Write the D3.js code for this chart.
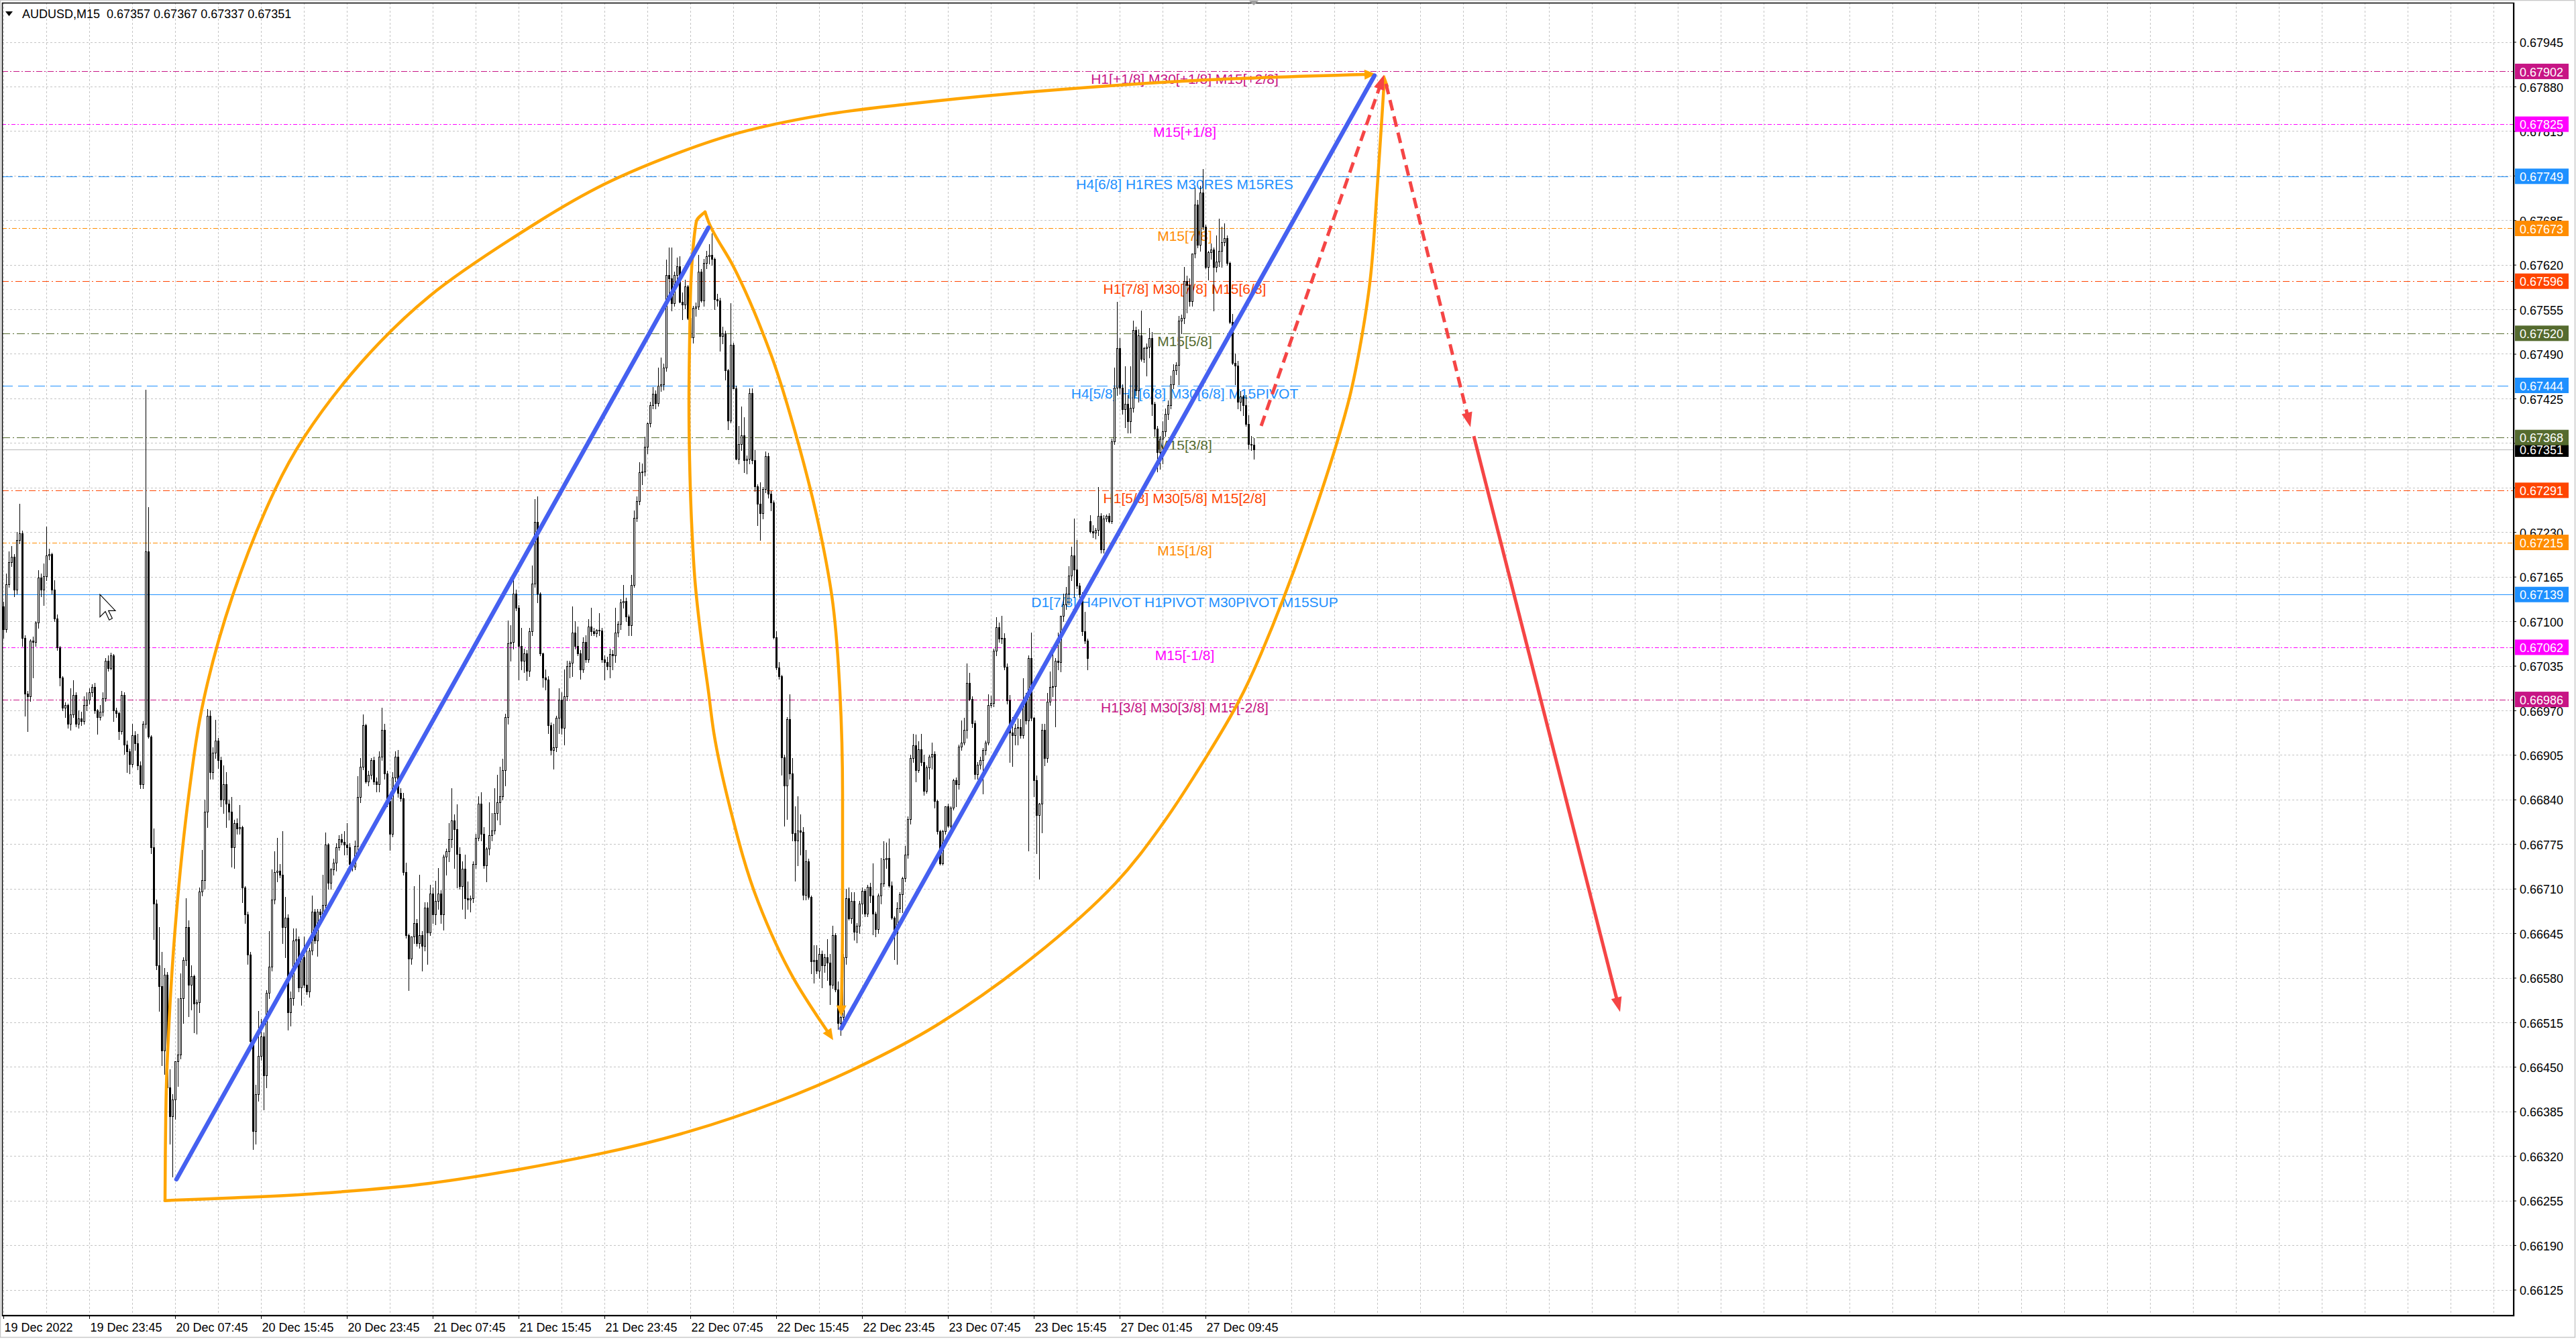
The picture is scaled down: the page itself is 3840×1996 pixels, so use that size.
<!DOCTYPE html>
<html>
<head>
<meta charset="utf-8">
<script src="https://cdnjs.cloudflare.com/ajax/libs/d3/7.8.5/d3.min.js"></script>
<style>
html, body { margin: 0; padding: 0; background: #fff; }
svg { display: block; font-family: "Liberation Sans", Arial, sans-serif; }
</style>
</head>
<body>
<svg id="chart" width="3840" height="1996"></svg>
<script>
// ---- data (prices in points, 1 point = 0.00001) ----
const symbol = "AUDUSD", timeframe = "M15";

// [open, high, low, close] per M15 bar
const bars = [
[67122,67128,67076,67088],[67088,67170,67084,67154],[67154,67202,67150,67186],[67186,67210,67180,67194],[67194,67198,67136,67146],[67146,67230,67140,67218],[67218,67271,67214,67228],[67228,67232,67064,67076],[67076,67080,66962,66994],[66994,66998,66940,66990],
[66990,67074,66984,67072],[67072,67078,67018,67070],[67070,67100,67064,67098],[67098,67174,67090,67164],[67164,67170,67136,67146],[67146,67184,67124,67166],[67166,67238,67160,67196],[67196,67206,67190,67198],[67198,67200,67140,67146],[67146,67160,67100,67104],
[67104,67110,67058,67062],[67062,67064,67006,67018],[67018,67020,66970,66974],[66974,66982,66960,66978],[66978,66980,66944,66950],[66950,67002,66942,66964],[66964,67014,66960,66992],[66992,66996,66946,66950],[66950,66970,66944,66958],[66958,66968,66948,66954],
[66954,66990,66950,66978],[66978,66996,66970,66986],[66986,67002,66980,66996],[66996,67008,66990,67004],[67004,67010,66966,66970],[66970,66972,66936,66960],[66960,66978,66956,66968],[66968,66996,66962,66988],[66988,67046,66984,67042],[67042,67050,67028,67032],
[67032,67054,67030,67050],[67050,67052,66954,66970],[66970,66974,66960,66966],[66966,66968,66928,66940],[66940,66998,66936,66992],[66992,66996,66906,66920],[66920,66926,66880,66910],[66910,66914,66878,66892],[66892,66950,66888,66934],[66934,66940,66912,66922],
[66922,66936,66884,66890],[66890,66896,66856,66862],[66862,66954,66856,66950],[66950,67438,66944,67202],[67202,67266,66930,66932],[66932,66934,66762,66770],[66770,66798,66636,66688],[66688,66694,66592,66598],[66598,66654,66532,66568],[66568,66618,66452,66474],
[66474,66594,66440,66584],[66584,66588,66410,66420],[66420,66446,66338,66378],[66378,66410,66290,66402],[66402,66458,66374,66458],[66458,66550,66422,66468],[66468,66586,66462,66550],[66550,66610,66514,66606],[66606,66696,66598,66654],[66654,66664,66524,66570],
[66570,66598,66534,66582],[66582,66584,66500,66542],[66542,66548,66498,66544],[66544,66712,66530,66706],[66706,66766,66700,66722],[66722,66840,66710,66822],[66822,66972,66800,66962],[66962,66970,66870,66880],[66880,66916,66870,66908],[66908,66956,66900,66926],
[66926,66930,66886,66898],[66898,66902,66830,66840],[66840,66890,66820,66862],[66862,66880,66800,66834],[66834,66840,66810,66822],[66822,66844,66742,66770],[66770,66810,66740,66806],[66806,66812,66790,66798],[66798,66832,66790,66800],[66800,66802,66690,66712],
[66712,66714,66660,66672],[66672,66676,66600,66614],[66614,66618,66480,66488],[66488,66490,66330,66356],[66356,66424,66338,66410],[66410,66532,66400,66466],[66466,66520,66460,66494],[66494,66500,66388,66438],[66438,66562,66420,66558],[66558,66648,66550,66596],
[66596,66738,66590,66694],[66694,66764,66688,66734],[66734,66784,66720,66736],[66736,66746,66726,66730],[66730,66794,66630,66654],[66654,66698,66610,66668],[66668,66672,66504,66530],[66530,66560,66510,66550],[66550,66652,66540,66634],[66634,66652,66600,66636],
[66636,66640,66560,66566],[66566,66614,66540,66610],[66610,66640,66566,66570],[66570,66620,66556,66560],[66560,66624,66552,66620],[66620,66700,66614,66676],[66676,66680,66630,66634],[66634,66680,66612,66676],[66676,66680,66668,66672],[66672,66730,66668,66686],
[66686,66792,66680,66774],[66774,66776,66710,66718],[66718,66740,66710,66738],[66738,66754,66730,66748],[66748,66776,66736,66770],[66770,66788,66766,66782],[66782,66790,66774,66778],[66778,66794,66760,66774],[66774,66806,66760,66770],[66770,66776,66740,66746],
[66746,66750,66736,66742],[66742,66780,66738,66772],[66772,66874,66766,66844],[66844,66900,66836,66888],[66888,66964,66884,66948],[66948,66950,66864,66866],[66866,66882,66860,66876],[66876,66900,66870,66898],[66898,66902,66862,66866],[66866,66872,66852,66862],
[66862,66910,66852,66902],[66902,66974,66898,66942],[66942,66950,66870,66878],[66878,66882,66830,66838],[66838,66842,66766,66790],[66790,66880,66786,66872],[66872,66910,66866,66902],[66902,66912,66844,66850],[66850,66856,66838,66842],[66842,66850,66730,66734],
[66734,66748,66638,66642],[66642,66644,66562,66608],[66608,66640,66600,66640],[66640,66714,66630,66660],[66660,66666,66626,66630],[66630,66730,66624,66642],[66642,66648,66590,66626],[66626,66690,66620,66682],[66682,66690,66600,66646],[66646,66716,66642,66703],
[66703,66712,66660,66672],[66672,66721,66658,66692],[66692,66740,66680,66703],[66703,66708,66660,66672],[66672,66760,66650,66757],[66757,66768,66730,66764],[66764,66806,66750,66782],[66782,66856,66770,66809],[66809,66818,66740,66797],[66797,66833,66712,66761],
[66761,66770,66710,66714],[66714,66750,66680,66739],[66739,66760,66667,66696],[66696,66720,66680,66694],[66694,66700,66676,66696],[66696,66750,66690,66746],[66746,66790,66740,66784],[66784,66845,66780,66834],[66834,66851,66780,66790],[66790,66800,66740,66744],
[66744,66770,66720,66768],[66768,66836,66760,66788],[66788,66820,66780,66795],[66795,66856,66790,66820],[66820,66876,66810,66836],[66836,66888,66804,66845],[66845,66899,66840,66883],[66883,66965,66860,66960],[66960,67101,66950,67068],[67068,67094,67042,67070],
[67070,67166,67060,67140],[67140,67146,67116,67120],[67120,67124,67015,67064],[67064,67090,67030,67042],[67042,67060,67026,67053],[67053,67058,67014,67028],[67028,67090,67020,67085],[67085,67181,67080,67155],[67155,67278,67150,67245],[67245,67282,67127,67140],
[67140,67142,67050,67053],[67053,67054,67004,67018],[67018,67030,67000,67015],[67015,67020,66937,66948],[66948,66952,66905,66912],[66912,66950,66885,66916],[66916,66962,66910,66959],[66959,67002,66937,66986],[66986,66996,66936,66944],[66944,67030,66920,66990],
[66990,67042,66985,67035],[67035,67042,67018,67039],[67039,67122,67020,67083],[67083,67100,67060,67064],[67064,67092,67050,67053],[67053,67058,67016,67030],[67030,67077,67026,67070],[67070,67080,67040,67044],[67044,67103,67040,67092],[67092,67120,67080,67085],
[67085,67090,67080,67082],[67082,67088,67078,67087],[67087,67112,67080,67086],[67086,67090,67040,67044],[67044,67050,67015,67040],[67040,67048,67030,67035],[67035,67060,67018,67052],[67052,67058,67030,67050],[67050,67120,67040,67083],[67083,67100,67078,67096],
[67096,67132,67088,67127],[67127,67153,67120,67129],[67129,67134,67100,67107],[67107,67110,67080,67094],[67094,67168,67080,67153],[67153,67262,67150,67251],[67251,67282,67246,67275],[67275,67332,67270,67317],[67317,67330,67300,67318],[67318,67369,67312,67354],
[67354,67390,67345,67389],[67389,67420,67384,67415],[67415,67442,67410,67432],[67432,67437,67410,67418],[67418,67470,67414,67444],[67444,67485,67436,67445],[67445,67476,67438,67470],[67470,67627,67465,67605],[67605,67645,67570,67600],[67600,67645,67553,67564],
[67564,67610,67560,67605],[67605,67630,67590,67618],[67618,67632,67565,67566],[67566,67580,67540,67562],[67562,67598,67556,67588],[67588,67590,67540,67542],[67542,67548,67496,67514],[67514,67560,67506,67557],[67557,67565,67545,67559],[67559,67634,67555,67610],
[67610,67614,67566,67568],[67568,67628,67560,67623],[67623,67640,67615,67632],[67632,67650,67622,67634],[67634,67666,67620,67628],[67628,67630,67555,67570],[67570,67578,67560,67568],[67568,67572,67494,67516],[67516,67530,67505,67520],[67520,67524,67452,67466],
[67466,67468,67380,67393],[67393,67564,67390,67503],[67503,67506,67440,67440],[67440,67444,67336,67337],[67337,67385,67330,67358],[67358,67413,67350,67371],[67371,67398,67317,67335],[67335,67342,67315,67337],[67337,67440,67330,67433],[67433,67440,67330,67335],
[67335,67350,67290,67297],[67297,67300,67240,67271],[67271,67303,67218,67258],[67258,67296,67250,67293],[67293,67348,67288,67341],[67341,67346,67280,67286],[67286,67290,67262,67273],[67273,67276,67075,67077],[67077,67085,67030,67033],[67033,67040,67016,67020],
[67020,67022,66876,66901],[66901,66905,66802,66860],[66860,66960,66811,66957],[66957,66993,66870,66878],[66878,66900,66780,66791],[66791,66830,66721,66780],[66780,66845,66744,66795],[66795,66818,66760,66793],[66793,66800,66694,66701],[66701,66766,66694,66750],
[66750,66754,66695,66698],[66698,66700,66586,66604],[66604,66627,66573,66606],[66606,66627,66586,66590],[66590,66624,66580,66615],[66615,66620,66566,66598],[66598,66615,66588,66610],[66610,66636,66577,66602],[66602,66615,66541,66570],[66570,66656,66565,66642],
[66642,66645,66560,66563],[66563,66575,66505,66514],[66514,66530,66496,66523],[66523,66615,66515,66610],[66610,66710,66600,66696],[66696,66712,66665,66667],[66667,66705,66660,66692],[66692,66705,66635,66647],[66647,66660,66631,66656],[66656,66692,66645,66688],
[66688,66712,66673,66707],[66707,66710,66670,66673],[66673,66716,66670,66713],[66713,66718,66690,66700],[66700,66747,66643,66673],[66673,66676,66640,66651],[66651,66703,66645,66700],[66700,66755,66688,66717],[66717,66779,66714,66753],[66753,66777,66740,66755],
[66755,66783,66713,66715],[66715,66720,66666,66668],[66668,66670,66607,66645],[66645,66690,66600,66681],[66681,66705,66675,66702],[66702,66727,66675,66725],[66725,66772,66720,66760],[66760,66815,66755,66811],[66811,66905,66805,66900],[66900,66936,66895,66919],
[66919,66935,66866,66883],[66883,66925,66880,66913],[66913,66936,66890,66895],[66895,66905,66847,66853],[66853,66890,66850,66887],[66887,66905,66870,66902],[66902,66923,66885,66906],[66906,66910,66828,66838],[66838,66840,66790,66794],[66794,66796,66745,66747],
[66747,66796,66745,66794],[66794,66830,66790,66830],[66830,66834,66800,66802],[66802,66830,66795,66828],[66828,66870,66825,66868],[66868,66872,66830,66862],[66862,66920,66855,66917],[66917,66955,66912,66923],[66923,66959,66920,66942],[66942,67038,66930,67010],
[67010,67025,66985,66987],[66987,66990,66945,66951],[66951,66955,66870,66877],[66877,66895,66870,66891],[66891,66902,66885,66898],[66898,66915,66849,66912],[66912,66926,66905,66923],[66923,66993,66920,66978],[66978,66991,66975,66981],[66981,67060,66976,67057],
[67057,67106,67050,67091],[67091,67098,67070,67075],[67075,67108,67068,67076],[67076,67082,67030,67034],[67034,67038,66980,66985],[66985,66992,66895,66938],[66938,66960,66889,66934],[66934,66950,66920,66944],[66944,66958,66920,66945],[66945,66957,66930,66934],
[66934,67017,66930,66985],[66985,66995,66950,66955],[66955,67050,66765,67046],[67046,67083,66955,66959],[66959,66960,66845,66868],[66868,66875,66762,66817],[66817,66835,66724,66834],[66834,66950,66792,66942],[66942,66950,66890,66900],[66900,66995,66895,66983],
[66983,67027,66978,67004],[67004,67059,66990,67005],[67005,67046,66946,67042],[67042,67083,67030,67040],[67040,67108,67027,67108],[67108,67140,67100,67125],[67125,67150,67118,67140],[67140,67180,67125,67167],[67167,67209,67160,67196],[67196,67250,67135,67175],
[67175,67218,67148,67152],[67152,67156,67135,67139],[67139,67142,67080,67085],[67085,67114,67068,67072],[67072,67075,67030,67046],[67246,67255,67229,67231],[67231,67240,67222,67229],[67229,67236,67220,67233],[67233,67296,67225,67254],[67254,67258,67200,67205],
[67205,67255,67200,67250],[67250,67256,67246,67254],[67254,67258,67244,67246],[67246,67366,67243,67362],[67362,67470,67358,67441],[67441,67566,67430,67498],[67498,67513,67432,67441],[67441,67445,67402,67409],[67409,67472,67383,67417],[67417,67430,67375,67392],
[67392,67472,67375,67411],[67411,67538,67405,67525],[67525,67530,67430,67437],[67437,67526,67420,67517],[67517,67553,67480,67483],[67483,67500,67478,67498],[67498,67505,67458,67500],[67500,67528,67485,67513],[67513,67522,67400,67417],[67417,67420,67370,67381],
[67381,67385,67318,67347],[67347,67370,67322,67366],[67366,67392,67330,67377],[67377,67410,67370,67402],[67402,67422,67395,67415],[67415,67458,67410,67445],[67445,67475,67440,67466],[67466,67478,67460,67474],[67474,67545,67445,67538],[67538,67547,67520,67542],
[67542,67617,67535,67596],[67596,67604,67550,67590],[67590,67600,67560,67567],[67567,67636,67560,67636],[67636,67732,67630,67708],[67708,67715,67645,67649],[67649,67735,67640,67725],[67725,67760,67672,67675],[67675,67678,67615,67617],[67617,67640,67598,67638],
[67638,67651,67628,67642],[67642,67645,67553,67617],[67617,67663,67610,67625],[67625,67687,67618,67640],[67640,67675,67617,67653],[67653,67680,67648,67659],[67659,67663,67620,67623],[67623,67625,67535,67536],[67536,67548,67475,67477],[67477,67490,67445,67473],
[67473,67480,67410,67420],[67420,67436,67407,67428],[67428,67430,67400,67415],[67415,67430,67385,67388],[67388,67400,67352,67358],[67358,67370,67350,67357],[67357,67367,67337,67351]
];

const timeLabels = ["19 Dec 2022","19 Dec 23:45","20 Dec 07:45","20 Dec 15:45","20 Dec 23:45","21 Dec 07:45","21 Dec 15:45","21 Dec 23:45","22 Dec 07:45","22 Dec 15:45","22 Dec 23:45","23 Dec 07:45","23 Dec 15:45","27 Dec 01:45","27 Dec 09:45"];
const timeLabelBars = [0,32,64,96,128,160,192,224,256,288,320,352,384,416,448];

const priceTicks = [0.67945,0.67880,0.67815,0.67750,0.67685,0.67620,0.67555,0.67490,0.67425,0.67360,0.67295,0.67230,0.67165,0.67100,0.67035,0.66970,0.66905,0.66840,0.66775,0.66710,0.66645,0.66580,0.66515,0.66450,0.66385,0.66320,0.66255,0.66190,0.66125];

const levelPrices = [0.67902,0.67825,0.67749,0.67673,0.67596,0.67520,0.67444,0.67368,0.67291,0.67215,0.67139,0.67062,0.66986];
const levelNames = [
  "H1[+1/8] M30[+1/8] M15[+2/8]",
  "M15[+1/8]",
  "H4[6/8] H1RES M30RES M15RES",
  "M15[7/8]",
  "H1[7/8] M30[7/8] M15[6/8]",
  "M15[5/8]",
  "H4[5/8] H1[6/8] M30[6/8] M15PIVOT",
  "M15[3/8]",
  "H1[5/8] M30[5/8] M15[2/8]",
  "M15[1/8]",
  "D1[7/8] H4PIVOT H1PIVOT M30PIVOT M15SUP",
  "M15[-1/8]",
  "H1[3/8] M30[3/8] M15[-2/8]"
];
const levelColors = ["#c71585","#ff00ff","#1e90ff","#ff8c00","#ff4500","#556b2f","#1e90ff","#556b2f","#ff4500","#ff8c00","#1e90ff","#ff00ff","#c71585"];
const levelLabelBar = 440.25;
const currentPrice = 0.67351;

// hand drawn objects, points as [bar, price]
const arcUpper = [[60.25,0.66255],[60.5,0.66371],[61,0.66451],[64,0.66651],[69.25,0.66851],[74.75,0.66987],[85.5,0.67138],[101.25,0.67292],[112,0.67368],[133.5,0.67478],[158.75,0.67574],[199.5,0.67683],[223.75,0.67737],[248.75,0.67779],[273.75,0.67812],[304.75,0.67838],[336.25,0.67854],[373.75,0.67869],[440.75,0.67888],[511.5,0.67898]];
const arcLower = [[60.25,0.66255],[86.25,0.66259],[112,0.66264],[158.75,0.66280],[222,0.66323],[255.75,0.66356],[288.25,0.66399],[318.75,0.66450],[347.5,0.66510],[383.75,0.66610],[414.5,0.66718],[431.75,0.66803],[448.75,0.66905],[460.25,0.66982],[468.75,0.67053],[485,0.67218],[501,0.67416],[505.75,0.67504],[509.5,0.67602],[512,0.67732],[513.5,0.67820],[514.75,0.67897]];
const lensLeft = [[261.5,0.67697],[258.25,0.67683],[256.25,0.67595],[255.75,0.67509],[255.5,0.67419],[255.75,0.67334],[256.5,0.67243],[257.75,0.67159],[260,0.67077],[262.75,0.66998],[264.75,0.66938],[271,0.66825],[281.25,0.66691],[294.5,0.66579],[309.25,0.66489]];
const lensRight = [[261.5,0.67697],[262.75,0.67683],[272,0.67618],[286.25,0.67487],[296.5,0.67356],[304.75,0.67224],[308.75,0.67137],[311.75,0.66998],[312.75,0.66848],[312.75,0.66669],[312.25,0.66523]];
const blueLines = [[[64.5,0.66286],[262.75,0.67674]], [[312.25,0.66506],[511,0.67896]]];
const redDashUp = [[468.75,0.67385],[514.5,0.67897]];
const redDashDown = [[515.25,0.67884],[546.75,0.67383]];
const redSolid = [[548,0.67370],[602.5,0.66530]];
const cursorAt = [36, 0.67139];

// ---- drawing ----
const svg = d3.select("#chart");
const plot = {left: 3, top: 4, right: 3747, bottom: 1961};
const P = v => v / 1e5;
const x = d3.scaleLinear().domain([0, bars.length - 1]).range([5, 5 + 4 * (bars.length - 1)]);
const y = d3.scaleLinear().domain([0.66125, 0.67945]).range([1922.5, 62.5]);
const fmt = d3.format(".5f");
const FONT = "'Liberation Sans', Arial, sans-serif";

svg.append("rect").attr("width", 3840).attr("height", 1996).attr("fill", "#fff");
svg.append("defs").append("clipPath").attr("id", "clip")
  .append("rect").attr("x", plot.left).attr("y", plot.top)
  .attr("width", plot.right - plot.left).attr("height", plot.bottom - plot.top);

// grid
const grid = svg.append("g").attr("clip-path", "url(#clip)").attr("shape-rendering", "crispEdges");
grid.selectAll("line.v").data(d3.range(0, 929, 16)).join("line")
  .attr("x1", d => Math.round(x(d)) + 0.5).attr("x2", d => Math.round(x(d)) + 0.5)
  .attr("y1", plot.top).attr("y2", plot.bottom)
  .attr("stroke", "#c4c4c4").attr("stroke-dasharray", "3,3");
grid.selectAll("line.h").data(priceTicks).join("line")
  .attr("x1", plot.left).attr("x2", plot.right)
  .attr("y1", d => Math.round(y(d)) + 0.5).attr("y2", d => Math.round(y(d)) + 0.5)
  .attr("stroke", "#c4c4c4").attr("stroke-dasharray", "3,3");

// levels
const levelDash = ["9,3,2,3","6,3,2,3","16,8","7,3,2,3","10,4,2,4","12,4,2,4","16,8","12,4,2,4","10,4,2,4","7,3,2,3",null,"6,3,2,3","9,3,2,3"];
const lv = svg.append("g").attr("clip-path", "url(#clip)");
lv.selectAll("line").data(levelPrices).join("line")
  .attr("x1", plot.left).attr("x2", plot.right)
  .attr("y1", d => Math.round(y(d)) + 0.5).attr("y2", d => Math.round(y(d)) + 0.5)
  .attr("stroke", (d, i) => levelColors[i]).attr("stroke-width", 1.2)
  .attr("stroke-dasharray", (d, i) => levelDash[i]);
lv.selectAll("text").data(levelPrices).join("text")
  .attr("x", x(levelLabelBar)).attr("y", d => y(d) + 19)
  .attr("text-anchor", "middle").attr("font-family", FONT).attr("font-size", 21)
  .attr("fill", (d, i) => levelColors[i]).text((d, i) => levelNames[i]);

// current price line
svg.append("line").attr("x1", plot.left).attr("x2", plot.right)
  .attr("y1", Math.round(y(currentPrice)) + 0.5).attr("y2", Math.round(y(currentPrice)) + 0.5)
  .attr("stroke", "#b8b8b8").attr("stroke-width", 1.2);

// candles
const cg = svg.append("g").attr("clip-path", "url(#clip)").attr("shape-rendering", "crispEdges");
cg.selectAll("line.wick").data(bars).join("line")
  .attr("x1", (d, i) => x(i) + 0.5).attr("x2", (d, i) => x(i) + 0.5)
  .attr("y1", d => Math.round(y(P(d[1])))).attr("y2", d => Math.round(y(P(d[2]))) + 1)
  .attr("stroke", "#000").attr("stroke-width", 1);
const bodies = bars.map((d, i) => ({i, o: d[0], c: d[3]}));
cg.selectAll("rect.body").data(bodies.filter(b => b.o !== b.c)).join("rect")
  .attr("x", b => x(b.i) - 0.5)
  .attr("y", b => Math.round(y(P(Math.max(b.o, b.c)))) + 0.5)
  .attr("width", 2)
  .attr("height", b => Math.max(1, Math.round(y(P(Math.min(b.o, b.c)))) - Math.round(y(P(Math.max(b.o, b.c))))))
  .attr("fill", b => b.c > b.o ? "#fff" : "#000")
  .attr("stroke", "#000").attr("stroke-width", 1);
cg.selectAll("line.doji").data(bodies.filter(b => b.o === b.c)).join("line")
  .attr("x1", b => x(b.i) - 1).attr("x2", b => x(b.i) + 2)
  .attr("y1", b => Math.round(y(P(b.o))) + 0.5).attr("y2", b => Math.round(y(P(b.o))) + 0.5)
  .attr("stroke", "#000");

// drawn objects
const dg = svg.append("g").attr("clip-path", "url(#clip)");
const toXY = p => [x(p[0]), y(p[1])];
function arrowHead(tip, from, len, hw, color) {
  const dx = tip[0] - from[0], dy = tip[1] - from[1], d = Math.hypot(dx, dy);
  const ux = dx / d, uy = dy / d, bx = tip[0] - ux * len, by = tip[1] - uy * len;
  dg.append("polygon").attr("fill", color)
    .attr("points", [[tip[0], tip[1]], [bx - uy * hw, by + ux * hw], [bx + uy * hw, by - ux * hw]].map(p => p.join(",")).join(" "));
}
const curveArc = d3.line().x(d => d[0]).y(d => d[1]).curve(d3.curveCatmullRom.alpha(0.5));
const curveLens = d3.line().x(d => d[0]).y(d => d[1]).curve(d3.curveMonotoneY);
const ORANGE = "#ffa500";
[[arcUpper, curveArc], [arcLower, curveArc], [lensLeft, curveLens], [lensRight, curveLens]].forEach(([pts, gen]) => {
  const s = pts.map(toXY);
  const tip = s[s.length - 1], prev = s[s.length - 2];
  const d = Math.hypot(tip[0] - prev[0], tip[1] - prev[1]);
  const cut = [tip[0] - (tip[0] - prev[0]) / d * 10, tip[1] - (tip[1] - prev[1]) / d * 10];
  dg.append("path").attr("d", gen(s.slice(0, -1).concat([cut])))
    .attr("fill", "none").attr("stroke", ORANGE).attr("stroke-width", 4.5).attr("stroke-linecap", "round");
  arrowHead(tip, prev, 17, 7.5, ORANGE);
});
const BLUE = "#4560f0";
blueLines.forEach(l => {
  const s = l.map(toXY);
  dg.append("line").attr("x1", s[0][0]).attr("y1", s[0][1]).attr("x2", s[1][0]).attr("y2", s[1][1])
    .attr("stroke", BLUE).attr("stroke-width", 6.5).attr("stroke-linecap", "round");
});
const RED = "#f54545";
[[redDashUp, "16,9"], [redDashDown, "16,9"], [redSolid, null]].forEach(([l, dash]) => {
  const s = l.map(toXY);
  const dx = s[1][0] - s[0][0], dy = s[1][1] - s[0][1], d = Math.hypot(dx, dy);
  const end = [s[1][0] - dx / d * 16, s[1][1] - dy / d * 16];
  dg.append("line").attr("x1", s[0][0]).attr("y1", s[0][1]).attr("x2", end[0]).attr("y2", end[1])
    .attr("stroke", RED).attr("stroke-width", 5).attr("stroke-dasharray", dash);
  arrowHead(s[1], s[0], 22, 8, RED);
});

// mouse cursor
const cp = toXY(cursorAt);
svg.append("path").attr("transform", `translate(${cp[0]},${cp[1]}) scale(1.15)`)
  .attr("d", "M0,0 L0,29 L7,22 L12,33 L16,31 L11,21 L20,21 Z")
  .attr("fill", "#fff").attr("stroke", "#000").attr("stroke-width", 1);

// frame
svg.append("rect").attr("x", plot.left + 0.5).attr("y", plot.top + 0.5)
  .attr("width", plot.right - plot.left).attr("height", plot.bottom - plot.top)
  .attr("fill", "none").attr("stroke", "#000").attr("stroke-width", 1.5);
svg.append("line").attr("x1", plot.right).attr("x2", plot.right).attr("y1", plot.top).attr("y2", plot.bottom + 1)
  .attr("stroke", "#000").attr("stroke-width", 2);
svg.append("line").attr("x1", plot.left).attr("x2", plot.right + 1).attr("y1", plot.bottom).attr("y2", plot.bottom)
  .attr("stroke", "#000").attr("stroke-width", 2);
svg.append("rect").attr("x", 0.5).attr("y", 0.5).attr("width", 3838).attr("height", 1993)
  .attr("fill", "none").attr("stroke", "#c8c8c8").attr("stroke-width", 1.5);

// price axis
svg.append("g").attr("transform", `translate(${plot.right},0)`)
  .call(d3.axisRight(y).tickValues(priceTicks).tickFormat(fmt).tickSize(4).tickPadding(5))
  .call(g => g.select(".domain").remove())
  .call(g => g.selectAll("line").attr("stroke", "#000"))
  .attr("font-family", FONT).attr("font-size", 18)
  .call(g => g.selectAll("text").attr("fill", "#000").attr("dy", "0.4em"));

// price tags (drawn over the tick labels, as in the terminal)
const tags = [{p: currentPrice, c: "#000"}].concat(levelPrices.map((p, i) => ({p, c: levelColors[i]})));
const tg = svg.append("g");
tg.selectAll("rect").data(tags).join("rect")
  .attr("x", plot.right + 2).attr("y", d => y(d.p) - 11.5).attr("width", 80).attr("height", 23)
  .attr("fill", d => d.c);
tg.selectAll("text").data(tags).join("text")
  .attr("x", plot.right + 9).attr("y", d => y(d.p) + 7.2)
  .attr("font-family", FONT).attr("font-size", 18).attr("fill", "#fff")
  .text(d => fmt(d.p));

// time axis
svg.append("g").attr("transform", `translate(0,${plot.bottom})`)
  .call(d3.axisBottom(x).tickValues(timeLabelBars).tickFormat((d, i) => timeLabels[i]).tickSize(5).tickPadding(6))
  .call(g => g.select(".domain").remove())
  .call(g => g.selectAll("line").attr("stroke", "#000"))
  .attr("font-family", FONT).attr("font-size", 18)
  .call(g => g.selectAll("text").attr("fill", "#000").attr("text-anchor", "start").attr("x", 1));

// header
const last = bars[bars.length - 1];
svg.append("path").attr("d", "M8,17 L19,17 L13.5,24 Z").attr("fill", "#000");
svg.append("text").attr("x", 33).attr("y", 27)
  .attr("font-family", FONT).attr("font-size", 18).attr("fill", "#000")
  .style("white-space", "pre")
  .text(`${symbol},${timeframe}  ` + last.map(v => fmt(P(v))).join(" "));

// chart shift marker
const sx = x(bars.length - 1);
svg.append("path").attr("d", `M${sx - 7},1 L${sx + 7},1 L${sx},8 Z`).attr("fill", "#a0a0a0");
</script>
</body>
</html>
